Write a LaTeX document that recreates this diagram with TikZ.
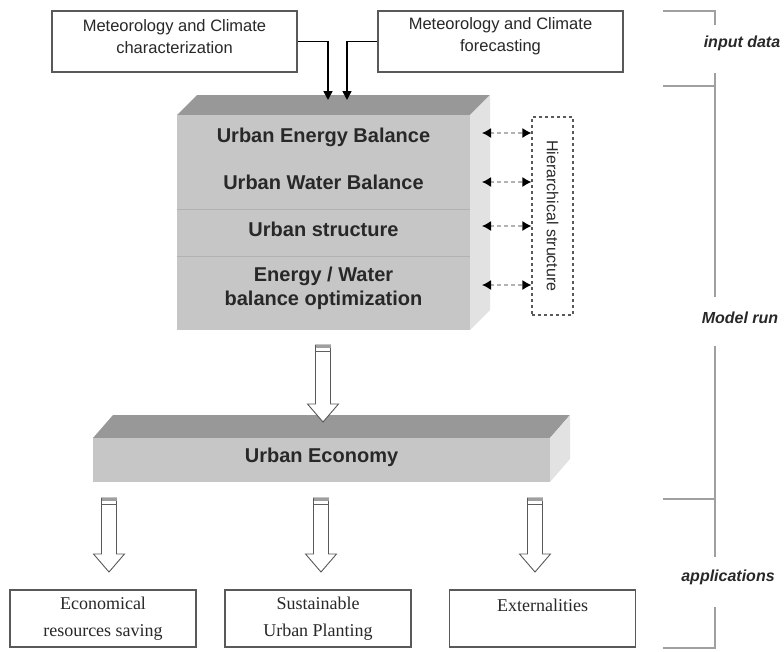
\documentclass[tikz,border=0pt]{standalone}
\usepackage{fontspec}
\setmainfont{Liberation Serif}
\setsansfont{Liberation Sans}
\usetikzlibrary{calc,arrows.meta}
\definecolor{topface}{RGB}{152,152,152}
\definecolor{frontface}{RGB}{198,198,198}
\definecolor{sideface}{RGB}{226,226,226}
\definecolor{divline}{RGB}{178,178,178}
\definecolor{txt}{RGB}{40,40,40}
\definecolor{brk}{RGB}{160,160,160}
\newcommand{\hlwarrow}[2]{%
  \draw[blockarr] ($(#1)+(-7.5,0)$) -- ($(#2)+(-7.5,-18)$) -- ($(#2)+(-15.5,-18)$) -- (#2)
     -- ($(#2)+(15.5,-18)$) -- ($(#2)+(7.5,-18)$) -- ($(#1)+(7.5,0)$) -- cycle;
  \fill[gray!75] ($(#1)+(-7.5,0)$) rectangle ($(#1)+(7.5,3)$);
  \draw[gray!75!black, line width=0.6pt] ($(#1)+(-7.5,6)$) -- ($(#1)+(7.5,6)$);
}
\begin{document}
\begin{tikzpicture}[x=1pt,y=-1pt,
  inbox/.style={draw=gray!70!black, line width=1.1pt, fill=white, minimum width=245pt, minimum height=61pt, inner sep=0pt},
  outbox/.style={draw=gray!70!black, line width=1.1pt, fill=white, minimum width=186pt, minimum height=57pt, inner sep=0pt, align=center, font=\fontsize{18}{27}\selectfont, text=txt},
  intext/.style={align=center, font=\sffamily\fontsize{16.5}{22}\selectfont, text=txt},
  blocktext/.style={align=center, font=\sffamily\bfseries\fontsize{20}{24}\selectfont, text=txt},
  sidelabel/.style={font=\sffamily\bfseries\itshape\fontsize{16}{19}\selectfont, text=txt},
  inarrow/.style={black, line width=1.6pt, -{Triangle[length=9pt,width=9pt]}},
  dasharr/.style={gray!60, dash pattern=on 4pt off 3pt, line width=1.3pt, {Latex[color=black,length=9pt,width=10pt]}-{Latex[color=black,length=9pt,width=10pt]}},
  blockarr/.style={draw=gray!70!black, line width=0.9pt, fill=white, line join=miter},
  bracket/.style={brk, line width=2pt},
  face/.style={draw=none},
]
\useasboundingbox (0,0) rectangle (784,651);

% input boxes
\node[inbox] (in1) at (174.5,41.5) {};
\node[intext] (t1) at ($(in1)+(0,-5)$) {Meteorology and Climate\\characterization};
\node[inbox] (in2) at (500.5,41.5) {};
\node[intext] (t2) at ($(in2)+(0,-5)$) {Meteorology and Climate\\forecasting};

% main block
\fill[topface] (177,115) -- (197,95) -- (490,95) -- (470,115) -- cycle;
\fill[sideface] (470,115) -- (490,95) -- (490,310) -- (470,330) -- cycle;
\node[face, fill=frontface, minimum width=293pt, minimum height=215pt, inner sep=0pt] (ub) at (323.5,222.5) {};
\draw[divline, line width=0.8pt] (ub.west |- 0,209) -- (ub.east |- 0,209);
\draw[divline, line width=0.8pt] (ub.west |- 0,256) -- (ub.east |- 0,256);
\node[blocktext] (l1) at (323.5,137) {Urban Energy Balance};
\node[blocktext] (l2) at (323.5,182) {Urban Water Balance};
\node[blocktext] (l3) at (323.5,229) {Urban structure};
\node[blocktext] (l4) at (323.5,288) {Energy / Water\\balance optimization};

% input arrows
\coordinate (a1) at (328,100);
\coordinate (a2) at (347,100);
\draw[inarrow] (in1.east) -| (a1);
\draw[inarrow] (in2.west) -| (a2);

% hierarchical structure
\node[draw=gray!70!black, dashed, line width=1.1pt, minimum width=41pt, minimum height=198pt, inner sep=0pt] (hier) at (552.5,216) {};
\node[rotate=-90, font=\sffamily\fontsize{16}{19}\selectfont, text=txt] (hl) at (hier) {Hierarchical structure};
\coordinate (d1) at (482,133);
\coordinate (d2) at (482,182);
\coordinate (d3) at (482,226);
\coordinate (d4) at (482,285);
\draw[dasharr] (d1) -- (d1 -| hier.west);
\draw[dasharr] (d2) -- (d2 -| hier.west);
\draw[dasharr] (d3) -- (d3 -| hier.west);
\draw[dasharr] (d4) -- (d4 -| hier.west);

% economy block
\fill[topface] (93,438) -- (113,415) -- (570,415) -- (550,438) -- cycle;
\fill[sideface] (550,438) -- (570,415) -- (570,459) -- (550,482) -- cycle;
\node[face, fill=frontface, minimum width=457pt, minimum height=44pt, inner sep=0pt] (eco) at (321.5,460) {};
\node[blocktext] (el) at (321.5,457) {Urban Economy};

% block arrow main -> economy
\coordinate (m0) at (323,345);
\coordinate (m1) at (323,422);
\hlwarrow{m0}{m1}

% output boxes
\node[outbox] (o1) at (103,618.5) {Economical\\resources saving};
\node[outbox] (o2) at (318,618.5) {Sustainable\\Urban Planting};
\node[outbox] (o3) at (542.5,618.5) {Externalities\\ \mbox{}};

\coordinate (s1) at (109,498); \coordinate (e1) at (109,572);
\coordinate (s2) at (321,498); \coordinate (e2) at (321,572);
\coordinate (s3) at (535,498); \coordinate (e3) at (535,572);
\hlwarrow{s1}{e1}
\hlwarrow{s2}{e2}
\hlwarrow{s3}{e3}

% bracket on the right
\draw[bracket] (663,11) -- (715,11) -- (715,25);
\draw[bracket] (663,86) -- (715,86);
\draw[bracket] (715,73) -- (715,297);
\draw[bracket] (715,346) -- (715,557);
\draw[bracket] (663,499) -- (715,499);
\draw[bracket] (715,607) -- (715,648) -- (663,648);
\node[sidelabel] (lab1) at (742,43) {input data};
\node[sidelabel] (lab2) at (740,318) {Model run};
\node[sidelabel] (lab3) at (728,577) {applications};
\end{tikzpicture}
\end{document}
